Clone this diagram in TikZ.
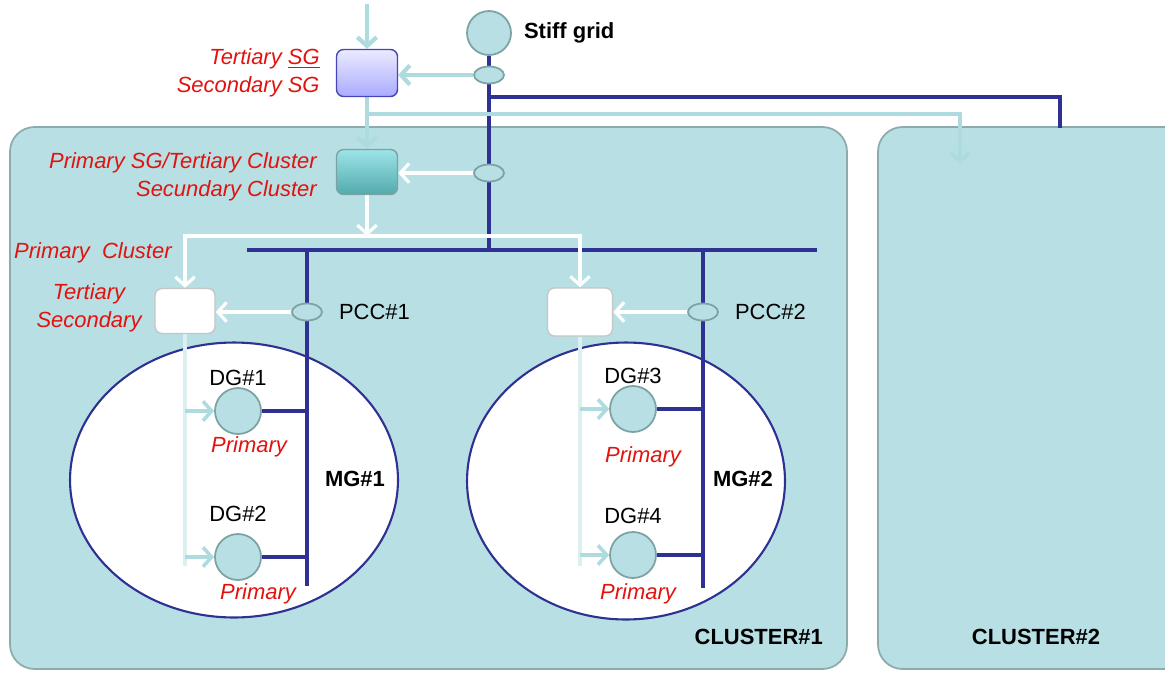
\documentclass[tikz,border=0pt]{standalone}
\usepackage{fontspec}
\setmainfont{Liberation Sans}
\usetikzlibrary{arrows.meta, positioning, shapes.geometric, calc}
\definecolor{clfill}{HTML}{B8DFE3}
\definecolor{clline}{HTML}{8EABAB}
\definecolor{busblue}{HTML}{2E3192}
\definecolor{labred}{HTML}{E2120F}
\definecolor{paleteal}{HTML}{ADDBE0}
\definecolor{trunkcol}{HTML}{DCEFF1}
\definecolor{dgline}{HTML}{7DA2A4}
\pgfdeclarelayer{back}
\pgfdeclarelayer{mid}
\pgfsetlayers{back,mid,main}
\tikzset{
  cluster/.style={draw=clline, fill=clfill, line width=1pt, rounded corners=14pt},
  bus/.style={draw=busblue, line width=2.3pt},
  palearr/.style={draw=paleteal, line width=2.4pt, -{Straight Barb[length=5pt,width=11pt]}},
  whitearr/.style={draw=white, line width=1.8pt, -{Straight Barb[length=5pt,width=11pt]}},
  trunk/.style={draw=trunkcol, line width=2.2pt},
  ctrl/.style={rounded corners=4pt, line width=0.8pt, minimum width=1.22cm, minimum height=0.94cm, inner sep=0pt},
  sensor/.style={ellipse, draw=dgline, fill=clfill, line width=1pt, minimum width=0.6cm, minimum height=0.34cm, inner sep=0pt},
  dg/.style={circle, draw=dgline, fill=clfill, line width=1pt, minimum size=0.92cm, inner sep=0pt},
  mgzone/.style={ellipse, draw=busblue, fill=white, line width=1.2pt, inner sep=0pt},
  redlab/.style={text=labred, font=\fontsize{12.5}{16}\selectfont\itshape},
  blklab/.style={font=\fontsize{12.5}{15}\selectfont},
  boldlab/.style={font=\fontsize{12.5}{15}\selectfont\bfseries}
}
\begin{document}
\begin{tikzpicture}[x=0.02cm, y=-0.02cm]
  \useasboundingbox (0,0) rectangle (1165,673);

  % clusters and microgrids
  \begin{pgfonlayer}{back}
    \draw[cluster] (10,127) rectangle (847,669);
    \draw[cluster] (878,127) rectangle (1200,669);
    \node[mgzone, minimum width=6.56cm, minimum height=5.5cm] (mg1) at (234,480) {};
    \node[mgzone, minimum width=6.36cm, minimum height=5.54cm] (mg2) at (626,481) {};
  \end{pgfonlayer}
  \node[boldlab, anchor=east] (cl1lab) at (829,637) {CLUSTER\#1};
  \node[boldlab] (cl2lab) at (1036,637) {CLUSTER\#2};

  % grid side
  \node[dg, minimum size=0.88cm] (stiff) at (489,33) {};
  \node[boldlab, right=0.12cm of stiff] (stifflab) {Stiff grid};
  \node[sensor] (e0) at (489,75) {};
  \node[sensor] (e1) at (489,173) {};
  \node[ctrl, draw=blue!45!gray, top color=blue!8, bottom color=blue!33!white] (sg) at (367,73) {};
  \node[ctrl, draw=dgline, top color=cyan!15!clfill, bottom color=teal!55!clfill, minimum height=0.9cm] (clc) at (367,172) {};
  \node[redlab, align=right, left=0.2cm of sg] (sglab) {Tertiary \underline{SG}\\Secondary SG};
  \node[redlab, align=right, anchor=east] (clclab) at (323,177) {Primary SG/Tertiary Cluster\\Secundary Cluster};
  \node[redlab, anchor=west] (pclab) at (8,253) {Primary\ \ Cluster};

  % microgrid controllers
  \node[ctrl, draw=gray!45, fill=white, minimum width=1.2cm, minimum height=0.9cm] (mc1) at (185,311) {};
  \node[ctrl, draw=gray!45, fill=white, minimum width=1.3cm, minimum height=0.96cm] (mc2) at (580,312) {};
  \node[redlab, align=center] (mc1lab) at (89,308) {Tertiary\\Secondary};
  \node[sensor] (pcc1) at (307,312) {};
  \node[sensor] (pcc2) at (703,312) {};
  \node[blklab, right=0.2cm of pcc1] (pcc1lab) {PCC\#1};
  \node[blklab, right=0.2cm of pcc2] (pcc2lab) {PCC\#2};

  % generators
  \node[dg] (dg1) at (238,411) {};
  \node[dg] (dg2) at (238,557) {};
  \node[dg] (dg3) at (633,409) {};
  \node[dg] (dg4) at (633,555) {};
  \node[blklab, above=-0.09cm of dg1] (dg1lab) {DG\#1};
  \node[blklab, above=0.11cm of dg2] (dg2lab) {DG\#2};
  \node[blklab, above=-0.1cm of dg3] (dg3lab) {DG\#3};
  \node[blklab, above=0.03cm of dg4] (dg4lab) {DG\#4};
  \node[redlab, below=-0.1cm of dg1, xshift=0.22cm] (p1) {Primary};
  \node[redlab, below=-0.08cm of dg2, xshift=0.4cm] (p2) {Primary};
  \node[redlab, below=0.14cm of dg3, xshift=0.2cm] (p3) {Primary};
  \node[redlab, below=-0.04cm of dg4, xshift=0.1cm] (p4) {Primary};
  \node[boldlab] (mg1lab) at (355,479) {MG\#1};
  \node[boldlab] (mg2lab) at (743,479) {MG\#2};

  \coordinate (feed) at (367,4);
  \coordinate (busL) at (247,250);
  \coordinate (busR) at (817,250);
  \coordinate (tap) at (489,97);
  \coordinate (cl2in) at (1060,128);
  \coordinate (palesplit) at (367,114);
  \coordinate (cl2ctrl) at (960,164);
  \coordinate (split) at (367,236);
  \coordinate (end1) at (307,586);
  \coordinate (end2) at (703,588);
  \coordinate (trunk1) at (185,566);
  \coordinate (trunk2) at (580,566);

  \begin{pgfonlayer}{mid}
    % power lines
    \draw[bus] (busL) -- (busR);
    \draw[bus] (stiff.south) -- (stiff.south |- busL);
    \draw[bus] (tap) -| (cl2in);
    \draw[bus] (pcc1 |- busL) -- (end1);
    \draw[bus] (pcc2 |- busL) -- (end2);
    \foreach \g/\p in {dg1/pcc1, dg2/pcc1, dg3/pcc2, dg4/pcc2}
      \draw[bus] (\g.east) -- (\g.east -| \p);
    % signals
    \draw[palearr] (feed) -- (sg.north);
    \draw[palearr] (e0.west) -- (e0.west -| sg.east);
    \draw[palearr] (sg.south) -- (clc.north);
    \draw[palearr] (palesplit) -| (cl2ctrl);
    \draw[whitearr] (e1.west) -- (e1.west -| clc.east);
    \draw[whitearr] (clc.south) -- (split);
    \draw[whitearr] (split) -| (mc1.north);
    \draw[whitearr] (split) -| (mc2.north);
    \draw[whitearr] (pcc1.west) -- (pcc1.west -| mc1.east);
    \draw[whitearr] (pcc2.west) -- (pcc2.west -| mc2.east);
    \draw[trunk] (mc1.south) -- (trunk1);
    \draw[trunk] (mc2.south) -- (trunk2);
    \foreach \g/\m in {dg1/mc1, dg2/mc1, dg3/mc2, dg4/mc2}
      \draw[palearr, line width=2pt] (\m.south |- \g) -- (\g.west);
  \end{pgfonlayer}
\end{tikzpicture}
\end{document}
